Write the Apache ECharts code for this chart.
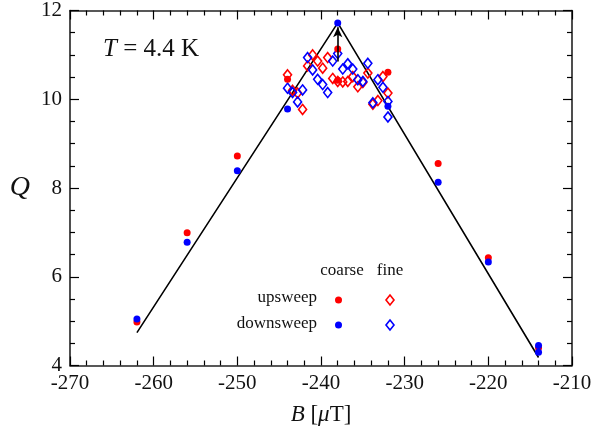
<!DOCTYPE html>
<html>
<head>
<meta charset="utf-8">
<script src="https://cdn.jsdelivr.net/npm/echarts@6/dist/echarts.min.js"></script>
<style>html,body{margin:0;padding:0;background:#fff;}#c{width:595px;height:439px;}</style>
</head>
<body>
<div id="c"></div>
<script>
// ---- data ----
const xTicks = [-270, -260, -250, -240, -230, -220, -210];
const yTicks = [4, 6, 8, 10, 12];

const coarseUpB   = [-262, -256, -250, -244, -238, -238, -232, -226, -220, -214];
const coarseUpQ   = [4.98, 6.99, 8.72, 10.45, 11.13, 10.43, 10.61, 8.55, 6.43, 4.40];
const coarseDownB = [-262, -256, -250, -244, -238, -232, -226, -220, -214, -214];
const coarseDownQ = [5.05, 6.78, 8.39, 9.78, 11.72, 9.84, 8.13, 6.33, 4.45, 4.30];

const fineUpB = [-244.0, -243.4, -242.8, -242.2, -241.6, -241.0, -240.4, -239.8, -239.2, -238.6, -238.0,
                 -237.4, -236.8, -236.2, -235.6, -235.0, -234.4, -233.8, -233.2, -232.6, -232.0];
const fineUpQ = [10.55, 10.20, 10.14, 9.77, 10.75, 11.00, 10.86, 10.70, 10.94, 10.47, 10.40,
                 10.39, 10.40, 10.51, 10.28, 10.38, 10.59, 9.89, 9.97, 10.51, 10.14];
const fineDownB = [-244.0, -243.4, -242.8, -242.2, -241.6, -241.0, -240.4, -239.8, -239.2, -238.6, -238.0,
                   -237.4, -236.8, -236.2, -235.6, -235.0, -234.4, -233.8, -233.2, -232.6, -232.0, -232.0];
const fineDownQ = [10.25, 10.15, 9.94, 10.21, 10.94, 10.66, 10.45, 10.33, 10.15, 10.86, 11.03,
                   10.68, 10.80, 10.68, 10.44, 10.40, 10.81, 9.92, 10.44, 10.27, 9.95, 9.60];

const fitB = [-262, -238, -214];
const fitQ = [4.74, 11.72, 4.18];

const arrowFrom = [-238, 10.85];
const arrowTo = [-238, 11.62];

// ---- chart ----
const RED = '#ff0000', BLUE = '#0000ff';
const FONT = 'Liberation Serif';
const zip = (a, b) => a.map((v, i) => [v, b[i]]);

const chart = echarts.init(document.getElementById('c'), null, {renderer: 'canvas'});

const tickStyle = {show: true, inside: true, length: 9, lineStyle: {color: '#000', width: 1.2}};
const minorStyle = {show: true, length: 5, lineStyle: {color: '#000', width: 1.2}};
const axisLine = {show: true, onZero: false, lineStyle: {color: '#222', width: 1.6}};

chart.setOption({
  animation: false,
  backgroundColor: '#fff',
  grid: {left: 70, right: 23, top: 8.5, bottom: 73.5, containLabel: false},
  xAxis: [
    {
      type: 'value', min: xTicks[0], max: xTicks[xTicks.length - 1], interval: 10, position: 'bottom',
      axisLine, axisTick: tickStyle, minorTick: Object.assign({splitNumber: 5}, minorStyle),
      splitLine: {show: false}, minorSplitLine: {show: false},
      axisLabel: {fontFamily: FONT, fontSize: 21, color: '#111', margin: 7},
      name: '{i|B} [{i|μ}T]', nameLocation: 'middle', nameGap: 38,
      nameTextStyle: {fontFamily: FONT, fontSize: 23, color: '#111',
        rich: {i: {fontFamily: FONT, fontSize: 23, fontStyle: 'italic', color: '#111'}}}
    },
    {
      type: 'value', min: xTicks[0], max: xTicks[xTicks.length - 1], interval: 10, position: 'top',
      axisLine, axisTick: tickStyle, minorTick: Object.assign({splitNumber: 5}, minorStyle),
      splitLine: {show: false}, axisLabel: {show: false}
    }
  ],
  yAxis: [
    {
      type: 'value', min: yTicks[0], max: yTicks[yTicks.length - 1], interval: 2, position: 'left',
      axisLine, axisTick: tickStyle, minorTick: Object.assign({splitNumber: 4}, minorStyle),
      splitLine: {show: false}, minorSplitLine: {show: false},
      axisLabel: {fontFamily: FONT, fontSize: 21, color: '#111', margin: 8},
      name: 'Q', nameLocation: 'middle', nameRotate: 0, nameGap: 40,
      nameTextStyle: {fontFamily: FONT, fontSize: 28, fontStyle: 'italic', color: '#111'}
    },
    {
      type: 'value', min: yTicks[0], max: yTicks[yTicks.length - 1], interval: 2, position: 'right',
      axisLine, axisTick: tickStyle, minorTick: Object.assign({splitNumber: 4}, minorStyle),
      splitLine: {show: false}, axisLabel: {show: false}
    }
  ],
  series: [
    {
      type: 'line', data: zip(fitB, fitQ), showSymbol: false, symbol: 'none',
      lineStyle: {color: '#000', width: 1.6}, z: 2, silent: true
    },
    {
      type: 'scatter', name: 'upsweep fine', data: zip(fineUpB, fineUpQ), symbol: 'diamond', symbolSize: [8, 10],
      itemStyle: {color: 'rgba(255,255,255,0)', borderColor: RED, borderWidth: 1.6, opacity: 1}, z: 3
    },
    {
      type: 'scatter', name: 'downsweep fine', data: zip(fineDownB, fineDownQ), symbol: 'diamond', symbolSize: [8, 10],
      itemStyle: {color: 'rgba(255,255,255,0)', borderColor: BLUE, borderWidth: 1.6, opacity: 1}, z: 3
    },
    {
      type: 'scatter', name: 'upsweep coarse', data: zip(coarseUpB, coarseUpQ), symbol: 'circle', symbolSize: 7,
      itemStyle: {color: RED, opacity: 1}, z: 4
    },
    {
      type: 'scatter', name: 'downsweep coarse', data: zip(coarseDownB, coarseDownQ), symbol: 'circle', symbolSize: 7,
      itemStyle: {color: BLUE, opacity: 1}, z: 4
    },
    {
      type: 'line', data: [], z: 6,
      markLine: {
        silent: true, symbol: ['none', 'arrow'], symbolSize: [7, 10],
        lineStyle: {color: '#000', width: 1.6, type: 'solid'}, label: {show: false},
        data: [[{coord: arrowFrom}, {coord: arrowTo}]]
      }
    }
  ],
  graphic: [
    {type: 'text', left: 103, top: 37, style: {text: '{i|T} = 4.4 K', fontFamily: FONT, fontSize: 25, fill: '#111',
      rich: {i: {fontFamily: FONT, fontSize: 25, fontStyle: 'italic', fill: '#111'}}}},
    {type: 'text', x: 342, y: 271, style: {text: 'coarse', fontFamily: FONT, fontSize: 17, fill: '#111', align: 'center', verticalAlign: 'middle'}},
    {type: 'text', x: 390, y: 271, style: {text: 'fine', fontFamily: FONT, fontSize: 17, fill: '#111', align: 'center', verticalAlign: 'middle'}},
    {type: 'text', x: 317, y: 298, style: {text: 'upsweep', fontFamily: FONT, fontSize: 17, fill: '#111', align: 'right', verticalAlign: 'middle'}},
    {type: 'text', x: 317, y: 324, style: {text: 'downsweep', fontFamily: FONT, fontSize: 17, fill: '#111', align: 'right', verticalAlign: 'middle'}},
    {type: 'circle', shape: {cx: 338.5, cy: 300, r: 3.5}, style: {fill: RED}},
    {type: 'circle', shape: {cx: 338.5, cy: 325, r: 3.5}, style: {fill: BLUE}},
    {type: 'polygon', shape: {points: [[390, 295], [394, 300], [390, 305], [386, 300]]}, style: {fill: 'none', stroke: RED, lineWidth: 1.6}},
    {type: 'polygon', shape: {points: [[390, 320], [394, 325], [390, 330], [386, 325]]}, style: {fill: 'none', stroke: BLUE, lineWidth: 1.6}}
  ]
});
</script>
</body>
</html>
